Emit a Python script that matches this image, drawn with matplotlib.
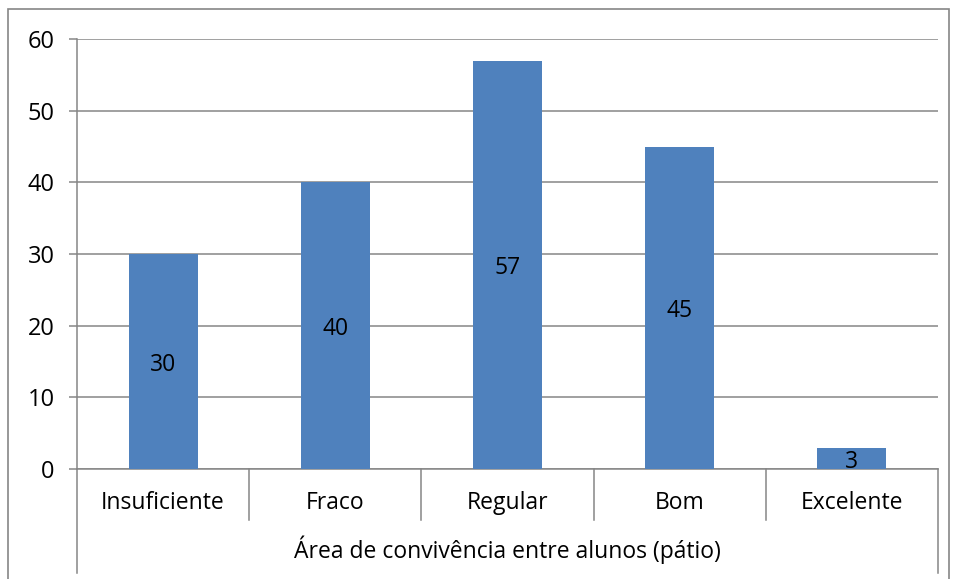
import numpy as np
import matplotlib
matplotlib.use("Agg")
from matplotlib import pyplot as plt
from matplotlib.patches import Rectangle

categories = ['Insuficiente', 'Fraco', 'Regular', 'Bom', 'Excelente']
values = [30, 40, 57, 45, 3]
yticks = [0, 10, 20, 30, 40, 50, 60]
group_title = 'Área de convivência entre alunos (pátio)'

plt.rcParams['font.family'] = ['Open Sans', 'DejaVu Sans']
GRAY = '#868686'
BLUE = '#4F81BD'

W, H = 956, 579
fig = plt.figure(figsize=(W / 100, H / 100), dpi=100)
left, right, top, bottom = 77, 938, 39, 469
ax = fig.add_axes([left / W, 1 - bottom / H, (right - left) / W, (bottom - top) / H])

# outer chart frame
fig.patches.append(Rectangle((8 / W, -0.1), (949 - 8) / W, 1 - 9 / H + 0.1,
                             transform=fig.transFigure, fill=False,
                             edgecolor=GRAY, lw=1.2))

x = np.arange(len(categories))
bars = ax.bar(x, values, width=0.4, color=BLUE, zorder=3)
for b, v in zip(bars, values):
    ax.annotate(str(v), (b.get_x() + b.get_width() / 2, v / 2),
                xytext=(0, -2.5), textcoords='offset points', ha='center',
                va='center', fontsize=16.5, zorder=4)

ax.set_xlim(-0.5, len(categories) - 0.5)
ax.set_ylim(0, 60)
ax.set_yticks(yticks)
ax.set_xticks([])
ax.yaxis.grid(True, color=GRAY, lw=1.1, zorder=0)
ax.tick_params(axis='y', length=6, color=GRAY, width=1.1, labelsize=17, pad=10)
for s in ['top', 'right']:
    ax.spines[s].set_visible(False)
for s in ['left', 'bottom']:
    ax.spines[s].set_color(GRAY)
    ax.spines[s].set_linewidth(1.1)

# category separators below the axis
ah = bottom - top
for i in range(len(categories) + 1):
    xf = i / len(categories)
    depth = -104 / ah if i in (0, len(categories)) else -51 / ah
    ax.plot([xf, xf], [0, depth], transform=ax.transAxes, color=GRAY,
            lw=1.1, clip_on=False)

for i, c in enumerate(categories):
    ax.text((i + 0.5) / len(categories), -34 / ah, c, transform=ax.transAxes,
            ha='center', va='center', fontsize=16.5)
ax.text(0.5, -81 / ah, group_title, transform=ax.transAxes,
        ha='center', va='center', fontsize=16.5)

fig.savefig('out.png', dpi=100)
